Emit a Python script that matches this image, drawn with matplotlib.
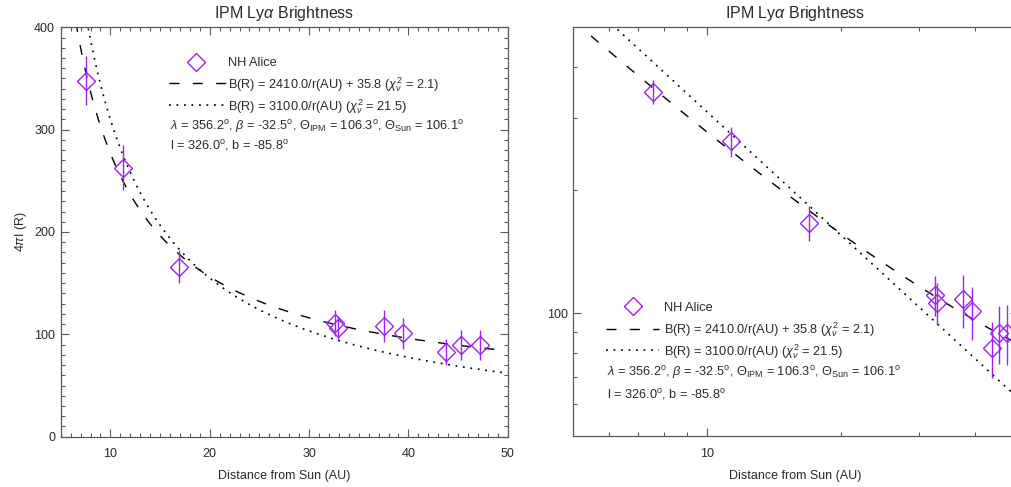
import numpy as np
import matplotlib
matplotlib.use('Agg')
import matplotlib.pyplot as plt
from matplotlib.ticker import MultipleLocator, NullFormatter

# ---------------- data ----------------
distance_au = [7.55, 11.30, 16.94, 32.60, 32.95, 37.55, 39.43, 43.79, 45.27, 47.21]
brightness_r = [347.8, 262.8, 166.1, 110.8, 105.9, 108.2, 101.0, 82.3, 89.6, 89.6]
brightness_err = [24.0, 22.0, 16.3, 12.5, 12.5, 16.0, 15.0, 12.7, 14.5, 15.0]

# fit parameters (as printed in the legend)
fit1_scale = 2410.0
fit1_offset = 35.8
fit2_scale = 3100.0

title_text = r"IPM Ly$\alpha$ Brightness"
xlabel_text = "Distance from Sun (AU)"
ylabel_text = r"4$\pi$I (R)"
legend_texts = [
    "NH Alice",
    r"B(R) = 2410.0/r(AU) + 35.8 ($\chi^2_\nu$ = 2.1)",
    r"B(R) = 3100.0/r(AU) ($\chi^2_\nu$ = 21.5)",
    r"$\lambda$ = 356.2$^{\rm o}$, $\beta$ = -32.5$^{\rm o}$, $\Theta_{\rm IPM}$ = 106.3$^{\rm o}$, $\Theta_{\rm Sun}$ = 106.1$^{\rm o}$",
    r"l = 326.0$^{\rm o}$, b = -85.8$^{\rm o}$",
]

lin_xticks = [10, 20, 30, 40, 50]
lin_yticks = [0, 100, 200, 300, 400]
log_xticks = [10]
log_xminor = [6, 7, 8, 9, 20, 30, 40]
log_yticks = [100]
log_yminor = [60, 70, 80, 90, 200, 300, 400]

# ---------------- style ----------------
plt.rcParams['font.family'] = ['Liberation Sans', 'DejaVu Sans']
plt.rcParams['mathtext.fontset'] = 'custom'
plt.rcParams['mathtext.rm'] = 'Liberation Sans'
plt.rcParams['mathtext.it'] = 'Liberation Sans:italic'
plt.rcParams['mathtext.bf'] = 'Liberation Sans:bold'
plt.rcParams['mathtext.sf'] = 'Liberation Sans'
plt.rcParams['lines.scale_dashes'] = False

purple = '#A020F0'
text_c = '#2a2a2a'
spine_c = '#5a5a5a'
FS = 9
LFS = 9.2

fig = plt.figure(figsize=(10.11, 4.87), dpi=100)
ax1 = fig.add_axes([0.06004, 0.1033, 0.44214, 0.8407])
ax2 = fig.add_axes([0.56706, 0.1040, 0.43986, 0.8405])


def style_axes(ax):
    for s in ax.spines.values():
        s.set_color(spine_c)
        s.set_linewidth(0.9)
    ax.tick_params(which='both', direction='in', top=True, right=True,
                   color=spine_c, width=0.8, labelsize=FS, labelcolor=text_c)
    ax.tick_params(which='major', length=5.8)
    ax.tick_params(which='minor', length=3.0)
    ax.tick_params(axis='x', which='both', pad=8.5)
    ax.tick_params(axis='y', which='both', pad=4.0)
    ax.set_title(title_text, fontsize=11.5, color=text_c, pad=6.5)
    ax.set_xlabel(xlabel_text, fontsize=FS, color=text_c, labelpad=7.0)


def draw_data(ax, r):
    ax.plot(r, fit1_scale / r + fit1_offset, color='black', lw=1.0,
            dashes=(7.2, 9.6))
    ax.plot(r, fit2_scale / r, color='black', lw=1.2, dashes=(1.3, 4.1))
    ax.errorbar(distance_au, brightness_r, yerr=brightness_err, fmt='none',
                ecolor=purple, elinewidth=1.0, capsize=0)
    ax.plot(distance_au, brightness_r, linestyle='none', marker='D', ms=8.7,
            mfc='none', mec=purple, mew=1.0)


def draw_legend(ax, xd, xt, xl0, xl1, xlam, ys):
    yd, base, ydash, ydot = ys
    tr = ax.transAxes
    ax.plot([xd], [yd], transform=tr, marker='D', ms=8.7, mfc='none',
            mec=purple, mew=1.0, linestyle='none', clip_on=False)
    ax.plot([xl0, xl1], [ydash, ydash], transform=tr, color='black', lw=1.0,
            dashes=(7.2, 9.6), clip_on=False)
    ax.plot([xl0, xl1], [ydot, ydot], transform=tr, color='black', lw=1.2,
            dashes=(1.3, 4.1), clip_on=False)
    xs = [xt, xt, xt, xlam, xlam]
    for t, x, y in zip(legend_texts, xs, base):
        ax.text(x, y, t, transform=tr, fontsize=LFS, color=text_c,
                ha='left', va='baseline')


# ---------------- left panel (linear) ----------------
style_axes(ax1)
r_lin = np.linspace(5, 50, 600)
draw_data(ax1, r_lin)
ax1.set_xlim(5, 50)
ax1.set_ylim(0, 400)
ax1.set_xticks(lin_xticks)
ax1.set_yticks(lin_yticks)
ax1.xaxis.set_minor_locator(MultipleLocator(1))
ax1.yaxis.set_minor_locator(MultipleLocator(10))
ax1.set_ylabel(ylabel_text, fontsize=FS, color=text_c, labelpad=3.5)
draw_legend(ax1, 0.302, 0.3736, 0.243, 0.370, 0.2445,
            (0.916, [0.9055, 0.851, 0.7963, 0.7491, 0.702], 0.8647, 0.8102))

# ---------------- right panel (log-log) ----------------
style_axes(ax2)
r_log = np.geomspace(5, 50, 600)
draw_data(ax2, r_log)
ax2.set_xscale('log')
ax2.set_yscale('log')
ax2.set_xlim(5, 50)
ax2.set_ylim(50, 500)
ax2.set_xticks(log_xticks)
ax2.set_xticklabels([str(v) for v in log_xticks])
ax2.set_xticks(log_xminor, minor=True)
ax2.set_yticks(log_yticks)
ax2.set_yticklabels([str(v) for v in log_yticks])
ax2.set_yticks(log_yminor, minor=True)
ax2.xaxis.set_minor_formatter(NullFormatter())
ax2.yaxis.set_minor_formatter(NullFormatter())
draw_legend(ax2, 0.135, 0.2046, 0.0735, 0.1927, 0.075,
            (0.3176, [0.3054, 0.2509, 0.1979, 0.1466, 0.0921], 0.2631, 0.2101))

fig.savefig('out.png', dpi=100)
